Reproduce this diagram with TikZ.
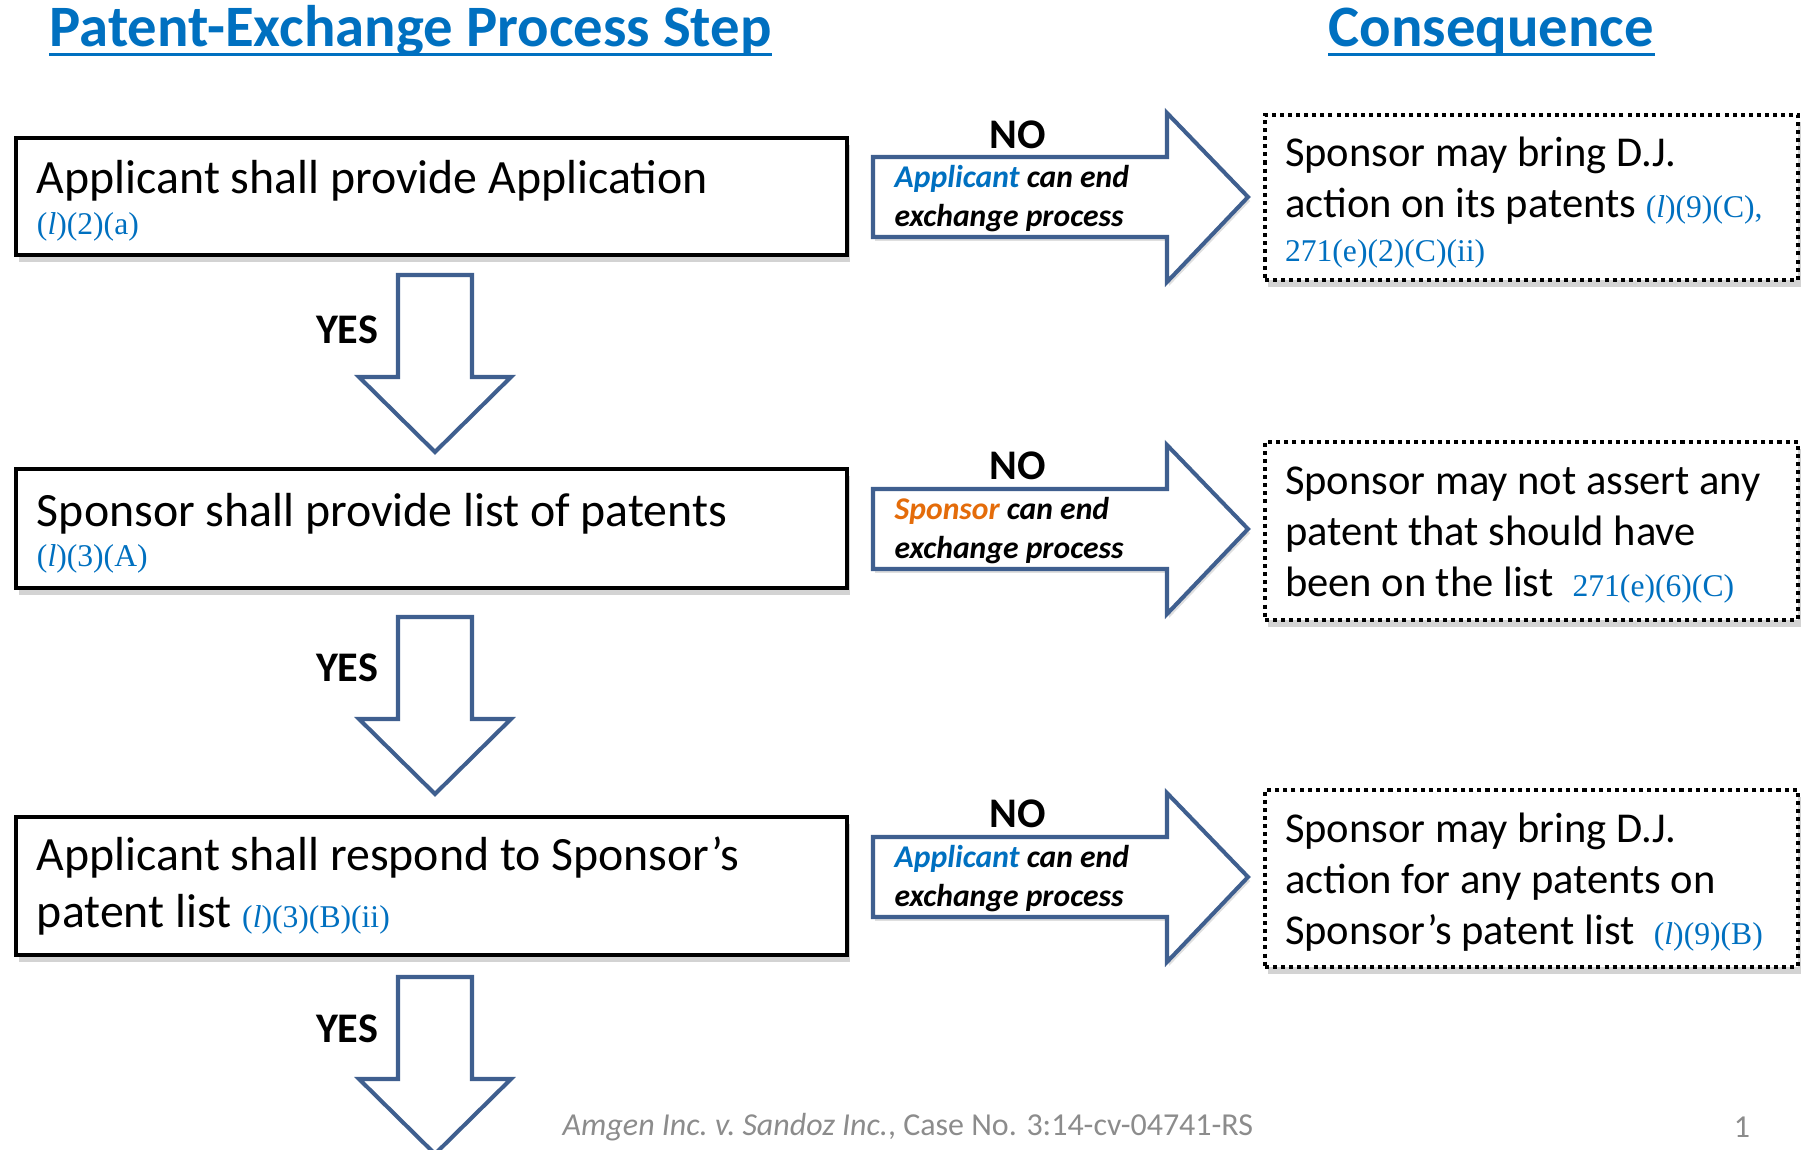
\documentclass[tikz,border=0pt]{standalone}
\usepackage{fontspec}
\setmainfont{Carlito}
\newfontfamily\lawfont{Liberation Serif}
\usetikzlibrary{calc,shadows}

\definecolor{linkblue}{HTML}{0070C0}
\definecolor{arrowblue}{HTML}{3F5F8F}
\definecolor{sponsororange}{HTML}{E46C0A}
\definecolor{footgray}{HTML}{8C8C8C}

\newcommand{\steptext}{\fontsize{13.6}{16.5}\selectfont}
\newcommand{\resulttext}{\fontsize{12.1}{14.5}\selectfont}
\newcommand{\statref}[1]{{\lawfont\fontsize{9}{10}\selectfont\color{linkblue}#1}}

\begin{document}
\begin{tikzpicture}[
    stepbox/.style={draw=black, line width=1.15pt, fill=white,
      minimum width=8.31cm, inner xsep=0.21cm, text width=7.89cm,
      align=flush left, font=\steptext,
      drop shadow={shadow xshift=0.03cm, shadow yshift=-0.07cm, opacity=0.35}},
    resultbox/.style={draw=black, line width=1.15pt, dash pattern=on 1.15pt off 1.15pt,
      fill=white, minimum width=5.33cm, inner xsep=0.2cm, text width=4.93cm,
      align=flush left, font=\resulttext,
      drop shadow={shadow xshift=0.03cm, shadow yshift=-0.07cm, opacity=0.35}},
    blockarrow/.style={draw=arrowblue, line width=1.15pt, fill=white, line join=miter},
    answer/.style={font=\fontsize{12}{14}\selectfont\bfseries, inner sep=0pt},
    endnote/.style={font=\fontsize{9}{11}\selectfont\bfseries\itshape,
      align=flush left, anchor=west, inner sep=0pt},
    heading/.style={font=\fontsize{16.7}{20}\selectfont\bfseries, text=linkblue,
      inner sep=0pt, anchor=base west}]

  \useasboundingbox (0,0) rectangle (18.01,-11.50);

  %% ===== column headings =====
  \node[heading] (title1) at (0.49,-0.47) {Patent-Exchange Process Step};
  \node[heading] (title2) at (13.28,-0.47) {Consequence};
  \draw[linkblue, line width=0.9pt] ($(title1.base west)+(0,-0.075)$) -- ($(title1.base east)+(0,-0.075)$);
  \draw[linkblue, line width=0.9pt] ($(title2.base west)+(0,-0.075)$) -- ($(title2.base east)+(0,-0.075)$);

  %% ===== process steps =====
  \node[stepbox, minimum height=1.17cm] (step1) at (4.315,-1.965)
    {\rule{0pt}{12pt}Applicant shall provide Application\\[-5pt]\statref{({\itshape l})(2)(a)}};
  \node[stepbox, minimum height=1.19cm] (step2) at (4.315,-5.285)
    {\rule{0pt}{12pt}Sponsor shall provide list of patents\\[-5pt]\statref{({\itshape l})(3)(A)}};
  \node[stepbox, minimum height=1.38cm] (step3) at (4.315,-8.86)
    {Applicant shall respond to Sponsor’s\\patent list \statref{({\itshape l})(3)(B)(ii)}};

  %% ===== consequences =====
  \node[resultbox, minimum height=1.63cm] (result1) at (15.315,-1.975)
    {\rule{0pt}{11.5pt}Sponsor may bring D.J.\\action on its patents~\statref{({\itshape l})(9)(C),}\\[-2pt]\statref{271(e)(2)(C)(ii)}};
  \node[resultbox, minimum height=1.78cm] (result2) at (15.315,-5.31)
    {\rule{0pt}{10.3pt}Sponsor may not assert any\\patent that should have\\been on the list~~\statref{271(e)(6)(C)}};
  \node[resultbox, minimum height=1.77cm] (result3) at (15.315,-8.785)
    {\rule{0pt}{10.3pt}Sponsor may bring D.J.\\action for any patents on\\Sponsor’s patent list~~\statref{({\itshape l})(9)(B)}};

  %% ===== YES arrows (down, between steps) =====
  \coordinate (yes1) at (4.35,-2.75);
  \coordinate (yes2) at (4.35,-6.17);
  \coordinate (yes3) at (4.35,-9.77);

  \draw[blockarrow] (yes1) ++(-0.37,0) -- ++(0.74,0) -- ++(0,-1.02) -- ++(0.39,0)
    -- ++(-0.76,-0.75) -- ++(-0.76,0.75) -- ++(0.39,0) -- cycle;
  \draw[blockarrow] (yes2) ++(-0.37,0) -- ++(0.74,0) -- ++(0,-1.02) -- ++(0.39,0)
    -- ++(-0.76,-0.75) -- ++(-0.76,0.75) -- ++(0.39,0) -- cycle;
  \draw[blockarrow] (yes3) ++(-0.37,0) -- ++(0.74,0) -- ++(0,-1.02) -- ++(0.39,0)
    -- ++(-0.76,-0.75) -- ++(-0.76,0.75) -- ++(0.39,0) -- cycle;

  \node[answer] (yeslabel1) at ($(yes1)+(-0.88,-0.55)$) {YES};
  \node[answer] (yeslabel2) at ($(yes2)+(-0.88,-0.51)$) {YES};
  \node[answer] (yeslabel3) at ($(yes3)+(-0.88,-0.52)$) {YES};

  %% ===== NO arrows (right, step to consequence) =====
  \coordinate (no1) at (8.73,-1.97);
  \coordinate (no2) at (8.73,-5.29);
  \coordinate (no3) at (8.73,-8.77);

  \draw[blockarrow, drop shadow={shadow xshift=0.02cm, shadow yshift=-0.04cm, opacity=0.25}]
    (no1) ++(0,0.40) -- ++(2.94,0) -- ++(0,0.44) -- ++(0.81,-0.84)
    -- ++(-0.81,-0.85) -- ++(0,0.45) -- ++(-2.94,0) -- cycle;
  \draw[blockarrow, drop shadow={shadow xshift=0.02cm, shadow yshift=-0.04cm, opacity=0.25}]
    (no2) ++(0,0.40) -- ++(2.94,0) -- ++(0,0.44) -- ++(0.81,-0.84)
    -- ++(-0.81,-0.85) -- ++(0,0.45) -- ++(-2.94,0) -- cycle;
  \draw[blockarrow, drop shadow={shadow xshift=0.02cm, shadow yshift=-0.04cm, opacity=0.25}]
    (no3) ++(0,0.40) -- ++(2.94,0) -- ++(0,0.44) -- ++(0.81,-0.84)
    -- ++(-0.81,-0.85) -- ++(0,0.45) -- ++(-2.94,0) -- cycle;

  \node[answer] (nolabel1) at ($(no1)+(1.45,0.62)$) {NO};
  \node[answer] (nolabel2) at ($(no2)+(1.45,0.63)$) {NO};
  \node[answer] (nolabel3) at ($(no3)+(1.45,0.63)$) {NO};

  \node[endnote] (end1) at ($(no1)+(0.21,-0.015)$)
    {\textcolor{linkblue}{Applicant} can end\\exchange process};
  \node[endnote] (end2) at ($(no2)+(0.21,-0.015)$)
    {\textcolor{sponsororange}{Sponsor} can end\\exchange process};
  \node[endnote] (end3) at ($(no3)+(0.21,-0.015)$)
    {\textcolor{linkblue}{Applicant} can end\\exchange process};

  %% ===== footer =====
  \node[anchor=west, text=footgray, font=\fontsize{9.1}{11}\selectfont, inner sep=0pt] (footer)
    at (5.62,-11.27) {\textit{Amgen Inc.\ v.\ Sandoz Inc.}, Case No. 3:14-cv-04741-RS};
  \node[text=footgray, font=\fontsize{9.1}{11}\selectfont, inner sep=0pt] (pagenum)
    at (17.42,-11.27) {1};

\end{tikzpicture}
\end{document}
